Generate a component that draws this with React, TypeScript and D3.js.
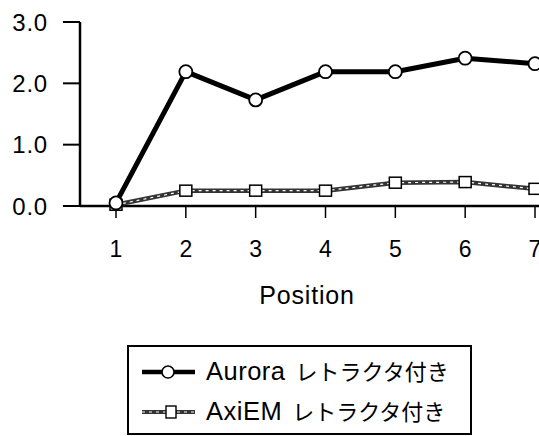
import React from 'react';
import * as d3 from 'd3';

const positions = [1, 2, 3, 4, 5, 6, 7];
const auroraValues = [0.05, 2.19, 1.73, 2.19, 2.19, 2.41, 2.32];
const axiemValues = [0.02, 0.25, 0.25, 0.25, 0.38, 0.39, 0.28];
const yTicks = [0, 1, 2, 3];
const seriesLatin = ['Aurora', 'AxiEM'];
const seriesJa = 'レトラクタ付き';
const xTitle = 'Position';

const width = 539;
const height = 436;
const font = '"Liberation Sans", Arial, "Noto Sans CJK JP", sans-serif';
const jaFont = '"Noto Sans CJK JP", sans-serif';

const App = () => {
  const x = d3.scaleLinear().domain([1, 7]).range([116, 535]);
  const y = d3.scaleLinear().domain([0, 3]).range([206, 22]);
  const axisLeft = 80;

  const line = d3.line<number>()
    .x((_, i) => x(positions[i]))
    .y(d => y(d));

  const auroraPath = line(auroraValues) || '';
  const axiemPath = line(axiemValues) || '';

  return (
    <svg width={width} height={height}
      style={{ position: 'absolute', left: 0, top: 0, background: '#fff' }}
      fontFamily={font}>
      {/* y axis */}
      <line x1={axisLeft} x2={axisLeft} y1={y(3)} y2={y(0)} stroke="#000" strokeWidth={2.5} />
      {yTicks.map(t => (
        <g key={t}>
          <line x1={63} x2={axisLeft} y1={y(t)} y2={y(t)} stroke="#000" strokeWidth={2} />
          <text x={48} y={y(t)} dy="0.36em" textAnchor="end" fontSize={24} letterSpacing={0.8}>{t.toFixed(1)}</text>
        </g>
      ))}

      {/* x axis */}
      <line x1={axisLeft} x2={width} y1={y(0)} y2={y(0)} stroke="#000" strokeWidth={2.5} />
      {positions.map(p => (
        <g key={p}>
          <line x1={x(p)} x2={x(p)} y1={y(0)} y2={y(0) + 12} stroke="#000" strokeWidth={1.5} />
          <text x={x(p)} y={257} textAnchor="middle" fontSize={23}>{p}</text>
        </g>
      ))}
      <text x={307} y={304} textAnchor="middle" fontSize={25} letterSpacing={0.8}>{xTitle}</text>

      {/* AxiEM series */}
      <path d={axiemPath} fill="none" stroke="#333" strokeWidth={4.5} />
      <path d={axiemPath} fill="none" stroke="#fff" strokeWidth={1.2} strokeDasharray="3,4" />
      {axiemValues.map((v, i) => (
        <rect key={i} x={x(positions[i]) - 6} y={y(v) - 5.5} width={12} height={11}
          fill="#fff" stroke="#000" strokeWidth={1.5} />
      ))}

      {/* Aurora series */}
      <path d={auroraPath} fill="none" stroke="#000" strokeWidth={5} strokeLinejoin="round" />
      {auroraValues.map((v, i) => (
        <circle key={i} cx={x(positions[i])} cy={y(v)} r={6.5}
          fill="#fff" stroke="#000" strokeWidth={1.8} />
      ))}

      {/* legend */}
      <rect x={128} y={346} width={343} height={88} fill="none" stroke="#000" strokeWidth={2} />
      <line x1={142} x2={195} y1={372} y2={372} stroke="#000" strokeWidth={4.5} />
      <circle cx={168} cy={372} r={6} fill="#fff" stroke="#000" strokeWidth={1.6} />
      <text x={206} y={380} fontSize={25.5} letterSpacing={0.5}>
        {seriesLatin[0]}
        <tspan dx={10} fontFamily={jaFont} fontSize={22} letterSpacing={0}>{seriesJa}</tspan>
      </text>

      <line x1={142} x2={195} y1={412} y2={412} stroke="#333" strokeWidth={4} />
      <line x1={142} x2={195} y1={412} y2={412} stroke="#fff" strokeWidth={1.2} strokeDasharray="3,4" />
      <rect x={166} y={406} width={10} height={12} fill="#fff" stroke="#000" strokeWidth={1.4} />
      <text x={206} y={420} fontSize={25.5} letterSpacing={0.5}>
        {seriesLatin[1]}
        <tspan dx={10} fontFamily={jaFont} fontSize={22} letterSpacing={0}>{seriesJa}</tspan>
      </text>
    </svg>
  );
};

export default App;
